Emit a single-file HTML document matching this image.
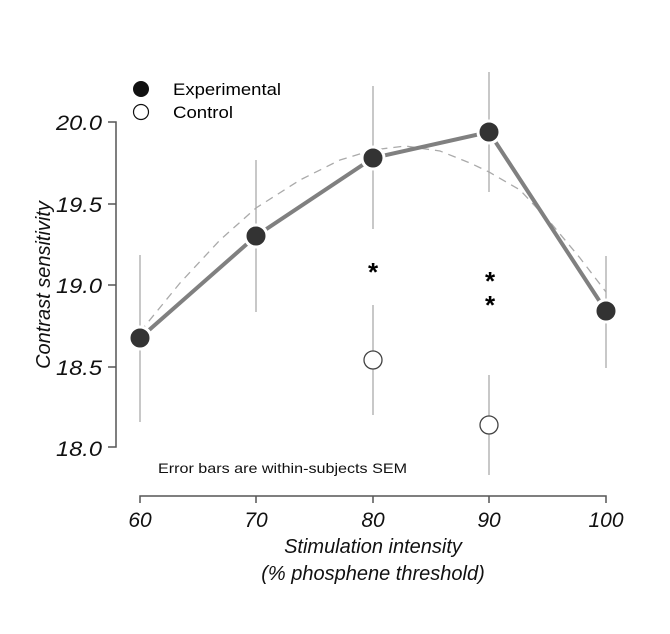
<!DOCTYPE html>
<html><head><style>body{margin:0;background:#fff}</style></head><body>
<svg width="670" height="629" viewBox="0 0 670 629" xmlns="http://www.w3.org/2000/svg" font-family="Liberation Sans, sans-serif">
<rect width="670" height="629" fill="#fff"/>
<!-- axes -->
<g stroke="#555" stroke-width="1.5" fill="none">
<path d="M108,122 H116 V447 H108"/>
<path d="M108,204 H116 M108,285 H116 M108,367 H116"/>
<path d="M140,503 V496 H606 V503 M256,496 V503 M373,496 V503 M489,496 V503"/>
</g>
<g font-style="italic" font-size="21" text-anchor="end" fill="#111">
<text x="102" y="130" textLength="46" lengthAdjust="spacingAndGlyphs">20.0</text>
<text x="102" y="212" textLength="46" lengthAdjust="spacingAndGlyphs">19.5</text>
<text x="102" y="293" textLength="46" lengthAdjust="spacingAndGlyphs">19.0</text>
<text x="102" y="375" textLength="46" lengthAdjust="spacingAndGlyphs">18.5</text>
<text x="102" y="456" textLength="46" lengthAdjust="spacingAndGlyphs">18.0</text>
</g>
<g font-style="italic" font-size="21" text-anchor="middle" fill="#111">
<text x="140" y="527">60</text>
<text x="256" y="527">70</text>
<text x="373" y="527">80</text>
<text x="489" y="527">90</text>
<text x="606" y="527">100</text>
<text x="373" y="553" font-size="20">Stimulation intensity</text>
<text x="373" y="580" font-size="20">(% phosphene threshold)</text>
<text transform="translate(50,285) rotate(-90)" font-size="20">Contrast sensitivity</text>
</g>
<text x="158" y="473" font-size="14" fill="#111" textLength="249" lengthAdjust="spacingAndGlyphs">Error bars are within-subjects SEM</text>
<!-- error bars -->
<g stroke="#aaa" stroke-width="1.3">
<path d="M140,255 V422 M256,160 V312 M373,86 V229 M489,72 V192 M606,256 V368 M373,305 V415 M489,375 V475"/>
</g>
<!-- dashed fit -->
<polyline fill="none" stroke="#aaa" stroke-width="1.3" stroke-dasharray="8,6" points="140,332 180,283 220,240 256,208 300,180 340,160 373,150 405,146 440,151 470,163 489,172 520,190 550,222 580,258 606,292"/>
<!-- experimental line -->
<polyline fill="none" stroke="#808080" stroke-width="4" points="140,338 256,236 373,158 489,132 606,311"/>
<g fill="#333" stroke="#fff" stroke-width="3">
<circle cx="140" cy="338" r="11"/>
<circle cx="256" cy="236" r="11"/>
<circle cx="373" cy="158" r="11"/>
<circle cx="489" cy="132" r="11"/>
<circle cx="606" cy="311" r="11"/>
</g>
<g fill="#fff" stroke="#444" stroke-width="1.3">
<circle cx="373" cy="360" r="9"/>
<circle cx="489" cy="425" r="9"/>
</g>
<g font-size="26" text-anchor="middle" fill="#000" font-weight="bold">
<text x="373" y="281">*</text>
<text x="490" y="290">*</text>
<text x="490" y="314">*</text>
</g>
<!-- legend -->
<circle cx="141" cy="89" r="8" fill="#111"/>
<circle cx="141" cy="112" r="7.5" fill="#fff" stroke="#111" stroke-width="1.2"/>
<text x="173" y="95" font-size="17" fill="#000" textLength="108" lengthAdjust="spacingAndGlyphs">Experimental</text>
<text x="173" y="118" font-size="17" fill="#000" textLength="60" lengthAdjust="spacingAndGlyphs">Control</text>
</svg>
</body></html>
